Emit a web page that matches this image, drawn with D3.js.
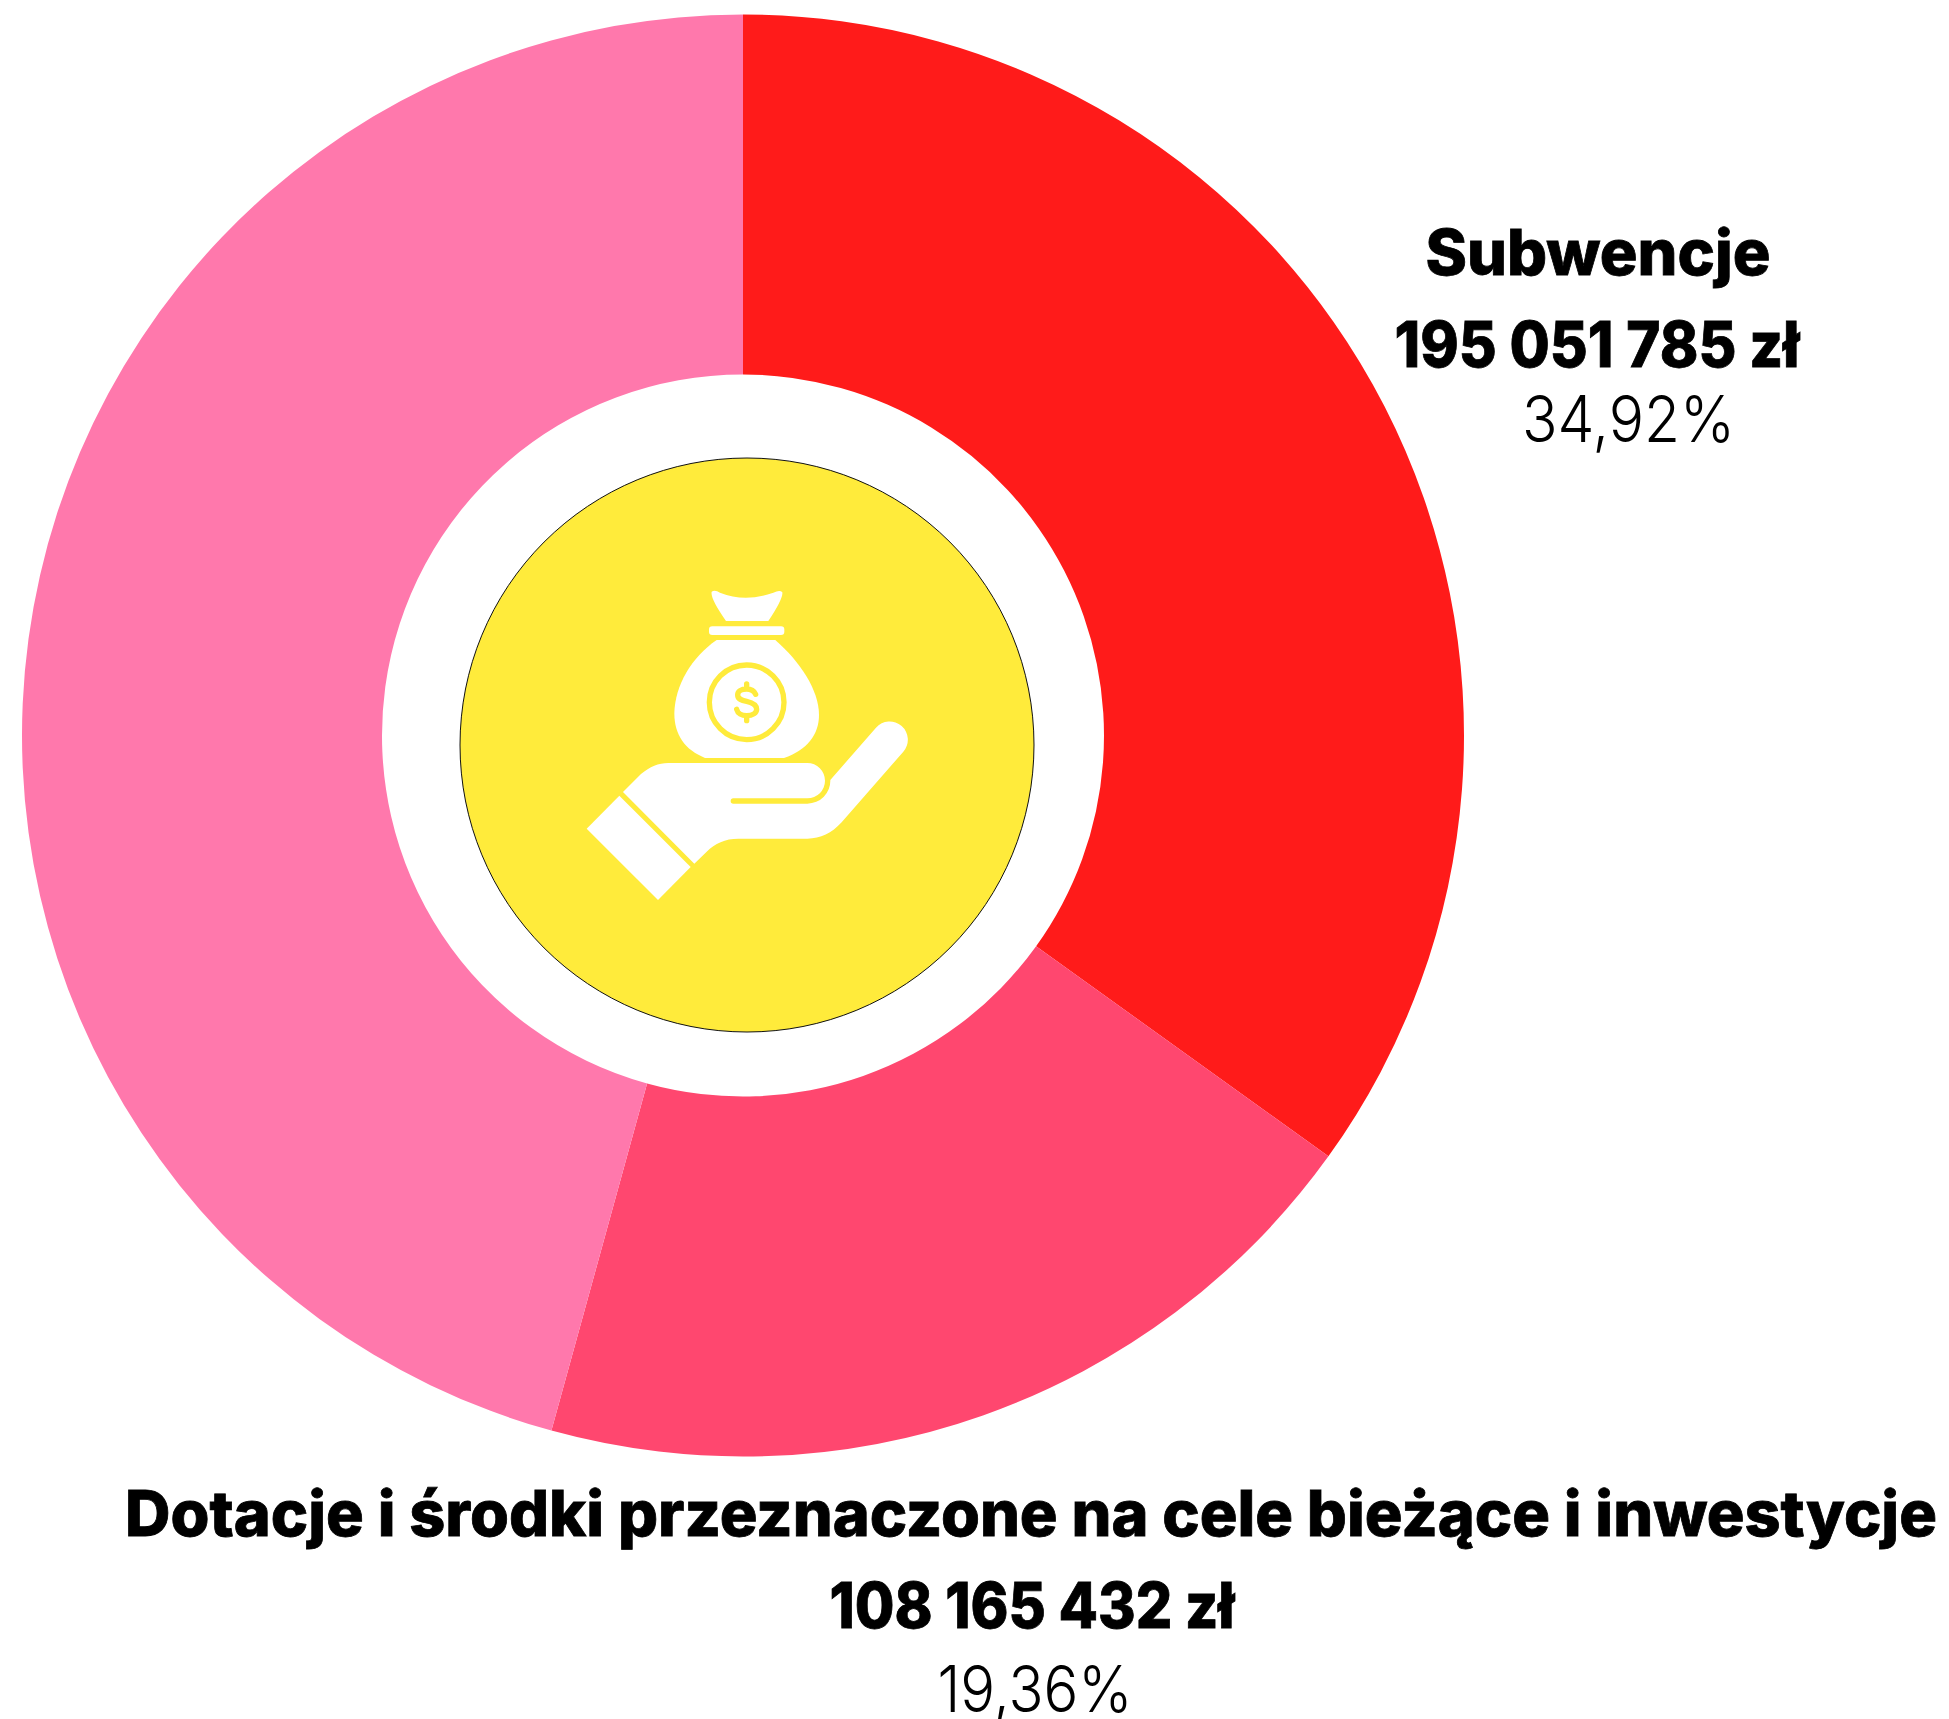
<!DOCTYPE html>
<html><head><meta charset="utf-8">
<style>html,body{margin:0;padding:0;background:#fff}svg{display:block}</style>
<script src="https://cdn.jsdelivr.net/npm/d3@7"></script>
</head><body><svg id="c" width="1949" height="1719"></svg>
<script>
const categories = ["Subwencje", "Dotacje i środki przeznaczone na cele bieżące i inwestycje", "Pozostałe"];
const values = [34.92, 19.36, 45.72];
const colors = ["#ff1b1a", "#ff476f", "#ff78ac"];

const svg = d3.select("#c");
const pie = d3.pie().sort(null).value(d => d);
const arc = d3.arc().innerRadius(361).outerRadius(721);
svg.append("g").attr("transform", "translate(743,735.5)")
  .selectAll("path").data(pie(values)).join("path")
  .attr("d", arc).attr("fill", (d, i) => colors[i]);

svg.append("circle").attr("cx", 747).attr("cy", 745).attr("r", 287)
  .attr("fill", "#ffeb3b").attr("stroke", "#111").attr("stroke-width", 1);

// Icon traced in a 3x local frame
const icon = svg.append("g").attr("transform", "translate(560,560) scale(0.33333)");
const white = "#fff", yellow = "#ffeb3b";
icon.append("path").attr("fill", white).attr("d", "M455 95 Q465 89 480 98 Q555 128 640 98 Q660 88 667 97 Q670 115 625 183 L498 183 Q450 115 455 95 Z");
icon.append("rect").attr("fill", white).attr("x", 447).attr("y", 199).attr("width", 226).attr("height", 26).attr("rx", 10);
icon.append("path").attr("fill", white).attr("d", "M470 240 L646 240 C720 305 777 390 777 465 C777 525 740 570 672 594 L435 594 C375 570 343 525 343 460 C345 375 395 292 470 240 Z");
icon.append("circle").attr("cx", 560).attr("cy", 427).attr("r", 112).attr("fill", "none").attr("stroke", yellow).attr("stroke-width", 16);
icon.append("path").attr("fill", "none").attr("stroke", yellow).attr("stroke-width", 16).attr("stroke-linecap", "round")
  .attr("d", "M587 403 C582 392 572 387 560 387 C543 387 533 395 533 405 C533 418 545 421 560 424 C578 428 590 434 590 448 C590 459 578 467 560 467 C545 467 533 460 530 448 M560 372 L560 387 M560 467 L560 482");
icon.append("path").attr("fill", white).attr("d", "M178 707 L392 921 L294 1020 L80 806 Z");
icon.append("path").attr("fill", white).attr("d", "M189 696 L243 642 C270 620 295 609 325 609 L742 609 A53 53 0 0 1 742 715 L520 715 A8 8 0 0 0 520 731 L742 731 A69 69 0 0 0 811 660 L948 503 A54 54 0 0 1 1030 575 L845 787 C815 820 782 836 742 836 L535 836 C495 836 465 850 440 875 L403 911 Z");

const labelLines = [
  ["Subwencje", 1598, 275, 345, 800, 63, 1],
  ["195 051 785 zł", 1597, 367, 405, 800, 63, 1],
  ["34,92%", 1628.5, 442, 213, 300, 65, 0],
  ["Dotacje i środki przeznaczone na cele bieżące i inwestycje", 1031, 1536, 1812, 800, 63, 1],
  ["108 165 432 zł", 1032, 1628, 405, 800, 63, 1],
  ["19,36%", 1035, 1712, 195, 300, 65, 0]
];
svg.append("g").selectAll("text").data(labelLines).join("text")
  .attr("x", d => d[1]).attr("y", d => d[2])
  .attr("text-anchor", "middle")
  .attr("font-family", "Inter, 'Open Sans', sans-serif")
  .attr("font-weight", d => d[4]).attr("font-size", d => d[5])
  .attr("fill", "#000")
  .attr("stroke", d => d[6] ? "#000" : "none").attr("stroke-width", 0.8)
  .attr("textLength", d => d[3]).attr("lengthAdjust", "spacingAndGlyphs")
  .text(d => d[0]);
</script></body></html>
